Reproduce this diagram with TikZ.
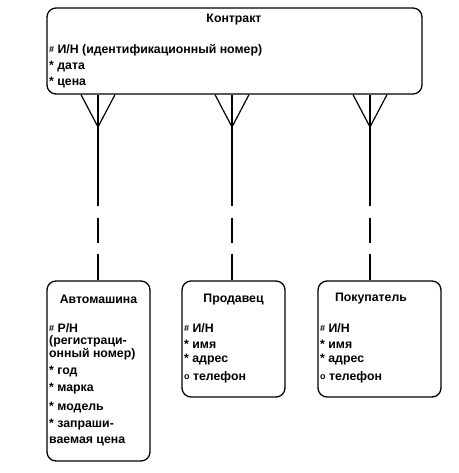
\documentclass[tikz,border=0pt]{standalone}
\usepackage{fontspec}
\setmainfont{Liberation Sans}
\usetikzlibrary{calc}
\newcommand\keymk{\raisebox{0.5pt}{\fontsize{9}{9}\selectfont\#}\ }
\newcommand\reqmk{*\ }
\newcommand\optmk{\raisebox{0.5pt}{\fontsize{9}{9}\selectfont o}\ }
\begin{document}
\begin{tikzpicture}[x=1pt,y=-1pt,
  box/.style={draw, line width=1.3pt, rounded corners=9pt, inner sep=0pt},
  txt/.style={anchor=west, inner sep=0pt, font=\bfseries\fontsize{12.3}{14}\selectfont},
  ttl/.style={inner sep=0pt, font=\bfseries\fontsize{12.3}{14}\selectfont},
  link/.style={line width=1.2pt},
  dlink/.style={link, dash pattern=on 111pt off 12pt on 25pt off 11pt on 60pt}
  ]
\useasboundingbox (0,0) rectangle (458,473);
\fill[white] (0,0) rectangle (458,473);
% top entity
\node[box, minimum width=375pt, minimum height=86pt] (k) at (234.5,51) {};
\node[ttl] (kt) at (234,20) {Контракт};
\node[txt] (k1) at (49,50) {\keymk И/Н (идентификационный номер)};
\node[txt] (k2) at (49,66) {\reqmk дата};
\node[txt] (k3) at (49,82) {\reqmk цена};
% Автомашина
\node[box, minimum width=103pt, minimum height=180pt] (b1) at (98.5,371) {};
\node[ttl] (b1t) at (98.5,299) {Автомашина};
\node[txt] (a1) at (49,328) {\keymk Р/Н};
\node[txt] (a2) at (49,341) {(регистраци-};
\node[txt] (a3) at (49,354) {онный номер)};
\node[txt] (a4) at (49,371) {\reqmk год};
\node[txt] (a5) at (49,389) {\reqmk марка};
\node[txt] (a6) at (49,407) {\reqmk модель};
\node[txt] (a7) at (49,425) {\reqmk запраши-};
\node[txt] (a8) at (49,441) {ваемая цена};
% Продавец
\node[box, minimum width=103pt, minimum height=116pt] (b2) at (233.5,339) {};
\node[ttl] (b2t) at (233.5,300) {Продавец};
\node[txt] (s1) at (184,328) {\keymk И/Н};
\node[txt] (s2) at (184,344) {\reqmk имя};
\node[txt] (s3) at (184,360) {\reqmk адрес};
\node[txt] (s4) at (184,377) {\optmk телефон};
% Покупатель
\node[box, minimum width=123pt, minimum height=116pt] (b3) at (379.5,339) {};
\node[ttl] (b3t) at (371,299) {Покупатель};
\node[txt] (p1) at (320,328) {\keymk И/Н};
\node[txt] (p2) at (320,344) {\reqmk имя};
\node[txt] (p3) at (320,360) {\reqmk адрес};
\node[txt] (p4) at (320,377) {\optmk телефон};
% crow's feet tips
\coordinate (f1) at (98,127);
\coordinate (f2) at (232,127);
\coordinate (f3) at (370,127);
\foreach \f/\b in {f1/b1, f2/b2, f3/b3}{
  \draw[link] ($(k.south -| \f)+(-17,0)$) -- (\f) -- ($(k.south -| \f)+(17,0)$);
  \draw[dlink] (k.south -| \f) -- (\b.north -| \f);
}
\end{tikzpicture}
\end{document}
